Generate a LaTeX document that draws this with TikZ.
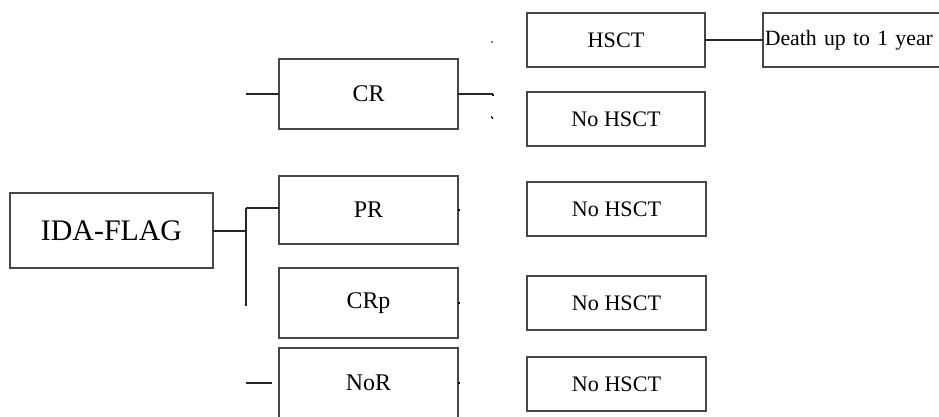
\documentclass[tikz,border=0pt]{standalone}
\usepackage{fontspec}
\setmainfont{Liberation Serif}
\begin{document}
\begin{tikzpicture}[x=0.02cm,y=-0.02cm,
  box/.style={draw=black!72, line width=0.9pt, fill=white, inner sep=0pt, outer sep=0pt},
  lvl1/.style={box, minimum width=3.58cm, font=\fontsize{13.6}{16}\selectfont},
  lvl2/.style={box, minimum width=3.57cm, minimum height=1.08cm, font=\fontsize{12.6}{15}\selectfont},
  conn/.style={draw=black!85, line width=1pt},
  tick/.style={draw=black, line width=1.3pt}]
\useasboundingbox (0,0) rectangle (939,416);
\clip (0,0) rectangle (939,416);
% root
\node[box, minimum width=4.06cm, minimum height=1.5cm, font=\fontsize{17}{20}\selectfont] (ida) at (111.5,230.5) {IDA-FLAG};
% level 1
\node[lvl1, minimum height=1.4cm]  (cr)  at (368.5,94)  {CR};
\node[lvl1, minimum height=1.36cm] (pr)  at (368.5,210) {PR};
\node[lvl1, minimum height=1.4cm]  (crp) at (368.5,303) {CRp};
\node[lvl1, minimum height=1.4cm]  (nor) at (368.5,383) {NoR};
% level 2
\node[lvl2] (hsct) at (616,40)    {HSCT};
\node[lvl2] (noh1) at (616,119)   {No HSCT};
\node[lvl2] (noh2) at (616.5,209) {No HSCT};
\node[lvl2] (noh3) at (616.5,303) {No HSCT};
\node[lvl2] (noh4) at (616.5,384) {No HSCT};
% level 3
\node[box, minimum height=1.08cm, text width=3.6cm, inner xsep=1pt, align=left,
      font=\fontsize{12.4}{15}\selectfont, anchor=west] (death) at (763,40) {\mbox{Death up to 1 year}};
% coordinates
\coordinate (j)    at (246,231);
\coordinate (jtop) at (246,208);
\coordinate (jbot) at (246,306);
\coordinate (crl)  at (246,94);
\coordinate (crr)  at (493,94);
\coordinate (norl) at (246,383);
% connectors
\draw[conn] (ida.east |- j) -- (j);
\draw[conn] (jtop) -- (jbot);
\draw[conn] (jtop) -- (pr.west |- jtop);
\draw[conn] (crl) -- (cr.west);
\draw[conn] (cr.east) -- (crr);
\draw[conn] (norl) -- ([xshift=-4]nor.west);
\draw[conn] (hsct.east) -- (death.west);
% small marks
\draw[tick] (crr) -- ++(0,2);
\fill[black] (492,42) circle (0.9);
\draw[line width=0.7pt] (491,116.5) -- (493,118.5);
\draw[tick] (pr.east) -- ++(2,0);
\draw[tick] (crp.east) -- ++(2,0);
\draw[tick] (nor.east |- norl) -- ++(2,0);
\end{tikzpicture}
\end{document}
